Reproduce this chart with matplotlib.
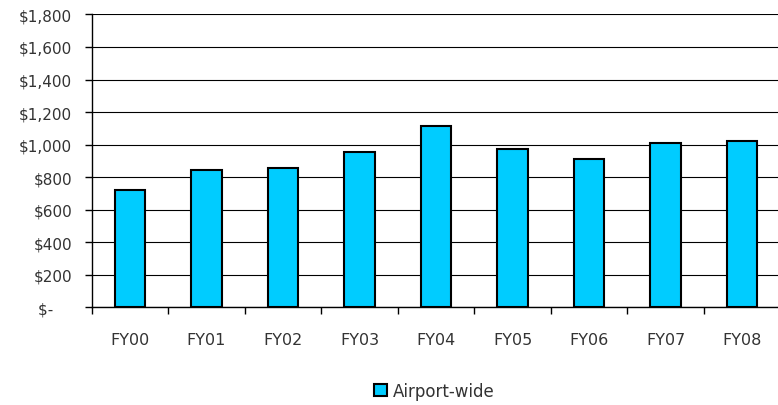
import matplotlib
matplotlib.use('Agg')
import matplotlib.pyplot as plt
from matplotlib.ticker import FuncFormatter, FixedLocator
import numpy as np

# Airport-wide values by fiscal year
YEARS = ['FY00', 'FY01', 'FY02', 'FY03', 'FY04', 'FY05', 'FY06', 'FY07', 'FY08']
VALUES = [720, 845, 854, 954, 1112, 972, 909, 1009, 1020]
SERIES_NAME = 'Airport-wide'
BAR_COLOR = '#00CCFF'
TEXT_COLOR = '#333333'


def money(v, pos):
    if v == 0:
        return '$-    '
    return f'${v:,.0f}'


def main():
    plt.rcParams['font.family'] = ['DejaVu Sans']
    fig = plt.figure(figsize=(7.78, 4.06), dpi=100)
    ax = fig.add_axes([0.118, 0.2406, 0.885, 0.7214])

    x = np.arange(len(YEARS))
    ax.bar(x, VALUES, width=0.4, color=BAR_COLOR, edgecolor='black',
           linewidth=1.5, label=SERIES_NAME, zorder=3)

    ax.set_ylim(0, 1800)
    ax.set_yticks(np.arange(0, 1801, 200))
    ax.yaxis.set_major_formatter(FuncFormatter(money))
    ax.yaxis.grid(True, color='black', linewidth=0.8, zorder=0)

    ax.set_xlim(-0.5, len(YEARS) - 0.5)
    ax.set_xticks(x)
    ax.set_xticklabels(YEARS)
    ax.xaxis.set_minor_locator(FixedLocator(np.arange(-0.5, len(YEARS), 1.0)))
    ax.tick_params(axis='x', which='major', length=0, pad=18, labelsize=11.5,
                   labelcolor=TEXT_COLOR)
    ax.tick_params(axis='x', which='minor', length=5, width=1, direction='out')
    ax.tick_params(axis='y', length=5, width=1, pad=9, labelsize=11,
                   labelcolor=TEXT_COLOR)

    for side in ['top', 'right']:
        ax.spines[side].set_visible(False)
    ax.spines['left'].set_linewidth(1)
    ax.spines['bottom'].set_linewidth(1)

    leg = fig.legend(loc='center', bbox_to_anchor=(0.558, 0.035), frameon=False,
                     fontsize=12, handlelength=0.8, handleheight=0.8,
                     handletextpad=0.3)
    for t in leg.get_texts():
        t.set_color(TEXT_COLOR)

    fig.savefig('out.png', dpi=100)


if __name__ == '__main__':
    main()
